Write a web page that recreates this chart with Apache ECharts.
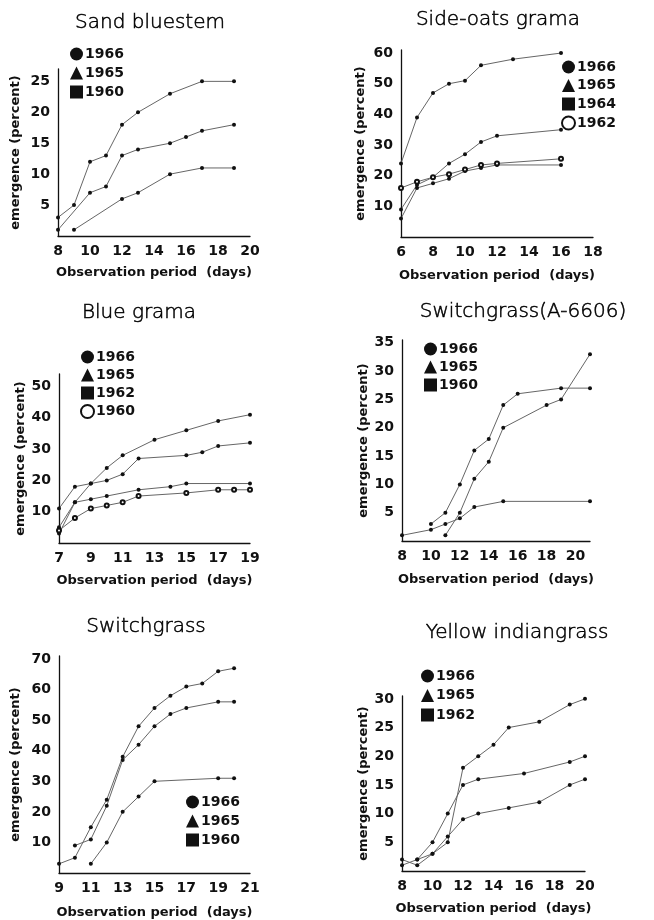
<!DOCTYPE html>
<html>
<head>
<meta charset="utf-8">
<script src="https://cdn.jsdelivr.net/npm/echarts@6/dist/echarts.min.js"></script>
<style>
  html, body { margin: 0; padding: 0; background: #fff; }
  #main { width: 654px; height: 920px; }
</style>
</head>
<body>
<div id="main"></div>
<script>
// ---- data ----
// Sand bluestem
const sbXTicks = [8, 10, 12, 14, 16, 18, 20];
const sbYTicks = [5, 10, 15, 20, 25];
const sbDays66 = [8, 9, 10, 11, 12, 13, 15, 17, 19];
const sbVals66 = [3, 5, 12, 13, 18, 20, 23, 25, 25];
const sbDays65 = [8, 10, 11, 12, 13, 15, 16, 17, 19];
const sbVals65 = [1, 7, 8, 13, 14, 15, 16, 17, 18];
const sbDays60 = [9, 12, 13, 15, 17, 19];
const sbVals60 = [1, 6, 7, 10, 11, 11];

// Side-oats grama
const soXTicks = [6, 8, 10, 12, 14, 16, 18];
const soYTicks = [10, 20, 30, 40, 50, 60];
const soDays66 = [6, 7, 8, 9, 10, 11, 13, 16];
const soVals66 = [24, 39, 47, 50, 51, 56, 58, 60];
const soDays = [6, 7, 8, 9, 10, 11, 12, 16];
const soVals65 = [9, 17, 19.5, 24, 27, 31, 33, 35];
const soVals64 = [6, 16, 17.5, 19, 21.5, 22.5, 23.5, 23.5];
const soVals62 = [16, 18, 19.5, 20.5, 22, 23.5, 24, 25.5];

// Blue grama
const bgXTicks = [7, 9, 11, 13, 15, 17, 19];
const bgYTicks = [10, 20, 30, 40, 50];
const bgDays66 = [7, 8, 9, 10, 11, 13, 15, 17, 19];
const bgVals66 = [5, 13, 19, 24, 28, 33, 36, 39, 41];
const bgDays65 = [7, 8, 9, 10, 11, 12, 15, 16, 17, 19];
const bgVals65 = [11, 18, 19, 20, 22, 27, 28, 29, 31, 32];
const bgDays62 = [7, 8, 9, 10, 12, 14, 15, 19];
const bgVals62 = [3, 13, 14, 15, 17, 18, 19, 19];
const bgDays60 = [7, 8, 9, 10, 11, 12, 15, 17, 18, 19];
const bgVals60 = [4, 8, 11, 12, 13, 15, 16, 17, 17, 17];

// Switchgrass (A-6606)
const saXTicks = [8, 10, 12, 14, 16, 18, 20];
const saYTicks = [5, 10, 15, 20, 25, 30, 35];
const saDays66 = [10, 11, 12, 13, 14, 15, 16, 19, 21];
const saVals66 = [3, 5, 10, 16, 18, 24, 26, 27, 27];
const saDays65 = [8, 10, 11, 12, 13, 15, 21];
const saVals65 = [1, 2, 3, 4, 6, 7, 7];
const saDays60 = [11, 12, 13, 14, 15, 18, 19, 21];
const saVals60 = [1, 5, 11, 14, 20, 24, 25, 33];

// Switchgrass
const swXTicks = [9, 11, 13, 15, 17, 19, 21];
const swYTicks = [10, 20, 30, 40, 50, 60, 70];
const swDays66 = [9, 10, 11, 12, 13, 14, 15, 16, 17, 18, 19, 20];
const swVals66 = [3, 5, 15, 24, 38, 48, 54, 58, 61, 62, 66, 67];
const swDays65 = [10, 11, 12, 13, 14, 15, 16, 17, 19, 20];
const swVals65 = [9, 11, 22, 37, 42, 48, 52, 54, 56, 56];
const swDays60 = [11, 12, 13, 14, 15, 19, 20];
const swVals60 = [3, 10, 20, 25, 30, 31, 31];

// Yellow indiangrass
const yiXTicks = [8, 10, 12, 14, 16, 18, 20];
const yiYTicks = [5, 10, 15, 20, 25, 30];
const yiDays66 = [8, 9, 10, 11, 12, 13, 14, 15, 17, 19, 20];
const yiVals66 = [1, 2, 3, 5, 18, 20, 22, 25, 26, 29, 30];
const yiDays65 = [9, 10, 11, 12, 13, 16, 19, 20];
const yiVals65 = [2, 5, 10, 15, 16, 17, 19, 20];
const yiDays62 = [8, 9, 10, 11, 12, 13, 15, 17, 19, 20];
const yiVals62 = [2, 1, 3, 6, 9, 10, 11, 12, 15, 16];

function pairs(days, vals) {
  return days.map((d, i) => [d, vals[i]]);
}

// ---- panel layout ----
const panels = [
  {
    title: 'Sand bluestem', tx: 150, ty: 23,
    grid: { left: 58, top: 69, width: 192, height: 167 },
    xMin: 8, xMax: 20, yMax: 27, yInt: 5, xTicks: sbXTicks, yTicks: sbYTicks,
    xGap: 30, yGap: 36, legend: { left: 70, top: 47, gap: 5 },
    series: [
      { name: '1966', icon: 'circle', data: pairs(sbDays66, sbVals66) },
      { name: '1965', icon: 'triangle', data: pairs(sbDays65, sbVals65) },
      { name: '1960', icon: 'rect', data: pairs(sbDays60, sbVals60) }
    ]
  },
  {
    title: 'Side-oats grama', tx: 498, ty: 20,
    grid: { left: 401, top: 50, width: 192, height: 187 },
    xMin: 6, xMax: 18, yMax: 61, yInt: 10, xTicks: soXTicks, yTicks: soYTicks,
    xGap: 32, yGap: 34, legend: { left: 561, top: 60, gap: 4.5 },
    series: [
      { name: '1966', icon: 'circle', data: pairs(soDays66, soVals66) },
      { name: '1965', icon: 'triangle', data: pairs(soDays, soVals65) },
      { name: '1964', icon: 'rect', data: pairs(soDays, soVals64) },
      { name: '1962', icon: 'emptyCircle', open: true, data: pairs(soDays, soVals62) }
    ]
  },
  {
    title: 'Blue grama', tx: 139, ty: 313,
    grid: { left: 59, top: 374, width: 191, height: 169 },
    xMin: 7, xMax: 19, yMax: 54, yInt: 10, xTicks: bgXTicks, yTicks: bgYTicks,
    xGap: 31, yGap: 32, legend: { left: 80, top: 350, gap: 4 },
    series: [
      { name: '1966', icon: 'circle', data: pairs(bgDays66, bgVals66) },
      { name: '1965', icon: 'triangle', data: pairs(bgDays65, bgVals65) },
      { name: '1962', icon: 'rect', data: pairs(bgDays62, bgVals62) },
      { name: '1960', icon: 'emptyCircle', open: true, data: pairs(bgDays60, bgVals60) }
    ]
  },
  {
    title: 'Switchgrass(A-6606)', tx: 523, ty: 312,
    grid: { left: 402, top: 340, width: 188, height: 201 },
    xMin: 8, xMax: 21, yMax: 35.5, yInt: 5, xTicks: saXTicks, yTicks: saYTicks,
    xGap: 32, yGap: 32, legend: { left: 424, top: 342, gap: 4 },
    series: [
      { name: '1966', icon: 'circle', data: pairs(saDays66, saVals66) },
      { name: '1965', icon: 'triangle', data: pairs(saDays65, saVals65) },
      { name: '1960', icon: 'rect', data: pairs(saDays60, saVals60) }
    ]
  },
  {
    title: 'Switchgrass', tx: 146, ty: 627,
    grid: { left: 59, top: 656, width: 191, height: 217 },
    xMin: 9, xMax: 21, yMax: 71, yInt: 10, xTicks: swXTicks, yTicks: swYTicks,
    xGap: 33, yGap: 37, legend: { left: 186, top: 795, gap: 5 },
    series: [
      { name: '1966', icon: 'circle', data: pairs(swDays66, swVals66) },
      { name: '1965', icon: 'triangle', data: pairs(swDays65, swVals65) },
      { name: '1960', icon: 'rect', data: pairs(swDays60, swVals60) }
    ]
  },
  {
    title: 'Yellow indiangrass', tx: 517, ty: 633,
    grid: { left: 402, top: 696, width: 183, height: 175 },
    xMin: 8, xMax: 20, yMax: 30.5, yInt: 5, xTicks: yiXTicks, yTicks: yiYTicks,
    xGap: 31, yGap: 30, legend: { left: 421, top: 669, gap: 5.5 },
    series: [
      { name: '1966', icon: 'circle', data: pairs(yiDays66, yiVals66) },
      { name: '1965', icon: 'triangle', data: pairs(yiDays65, yiVals65) },
      { name: '1962', icon: 'rect', data: pairs(yiDays62, yiVals62) }
    ]
  }
];

const ink = '#111';
const labelFont = { fontFamily: 'DejaVu Sans', fontWeight: 'bold', fontSize: 14, color: ink };
const nameFont = { fontFamily: 'DejaVu Sans', fontWeight: 'bold', fontSize: 13, color: ink };
const axisLine = { show: true, onZero: false, lineStyle: { color: ink, width: 1.3 } };

const option = {
  animation: false,
  backgroundColor: '#fff',
  title: panels.map(p => ({
    text: p.title,
    left: p.tx,
    top: p.ty,
    textAlign: 'center',
    textVerticalAlign: 'middle',
    padding: 0,
    textStyle: {
      fontFamily: 'DejaVu Sans', fontWeight: 200, fontSize: 20, color: '#000',
      textBorderColor: '#000', textBorderWidth: 0.5
    }
  })),
  legend: panels.map(p => ({
    orient: 'vertical',
    left: p.legend.left,
    top: p.legend.top,
    itemGap: p.legend.gap,
    itemWidth: 13,
    itemHeight: 13,
    padding: 0,
    selectedMode: false,
    data: p.series.map(s => ({ name: s.name, icon: s.icon })),
    textStyle: { fontFamily: 'DejaVu Sans', fontWeight: 'bold', fontSize: 14, color: ink, padding: [0, 0, 0, -3] }
  })),
  grid: panels.map(p => p.grid),
  xAxis: panels.map((p, i) => ({
    type: 'value',
    gridIndex: i,
    min: p.xMin,
    max: p.xMax,
    interval: 1,
    name: 'Observation period  (days)',
    nameLocation: 'middle',
    nameGap: p.xGap,
    nameTextStyle: nameFont,
    axisLine: axisLine,
    axisTick: { show: false },
    splitLine: { show: false },
    axisLabel: Object.assign({ margin: 8, formatter: v => (p.xTicks.includes(v) ? String(v) : '') }, labelFont)
  })),
  yAxis: panels.map((p, i) => ({
    type: 'value',
    gridIndex: i,
    min: 0,
    max: p.yMax,
    interval: p.yInt,
    name: 'emergence (percent)',
    nameLocation: 'middle',
    nameGap: p.yGap,
    nameTextStyle: nameFont,
    axisLine: axisLine,
    axisTick: { show: false },
    splitLine: { show: false },
    axisLabel: Object.assign({ margin: 8, formatter: v => (p.yTicks.includes(v) ? String(v) : '') }, labelFont)
  })),
  series: []
};

panels.forEach((p, i) => {
  p.series.forEach(s => {
    option.series.push({
      type: 'line',
      name: s.name,
      xAxisIndex: i,
      yAxisIndex: i,
      data: s.data,
      symbol: s.open ? 'emptyCircle' : 'circle',
      symbolSize: 4,
      itemStyle: { color: ink, borderWidth: 0.8 },
      lineStyle: { color: '#666', width: 1 },
      silent: true
    });
  });
});

const chart = echarts.init(document.getElementById('main'));
chart.setOption(option);
</script>
</body>
</html>
